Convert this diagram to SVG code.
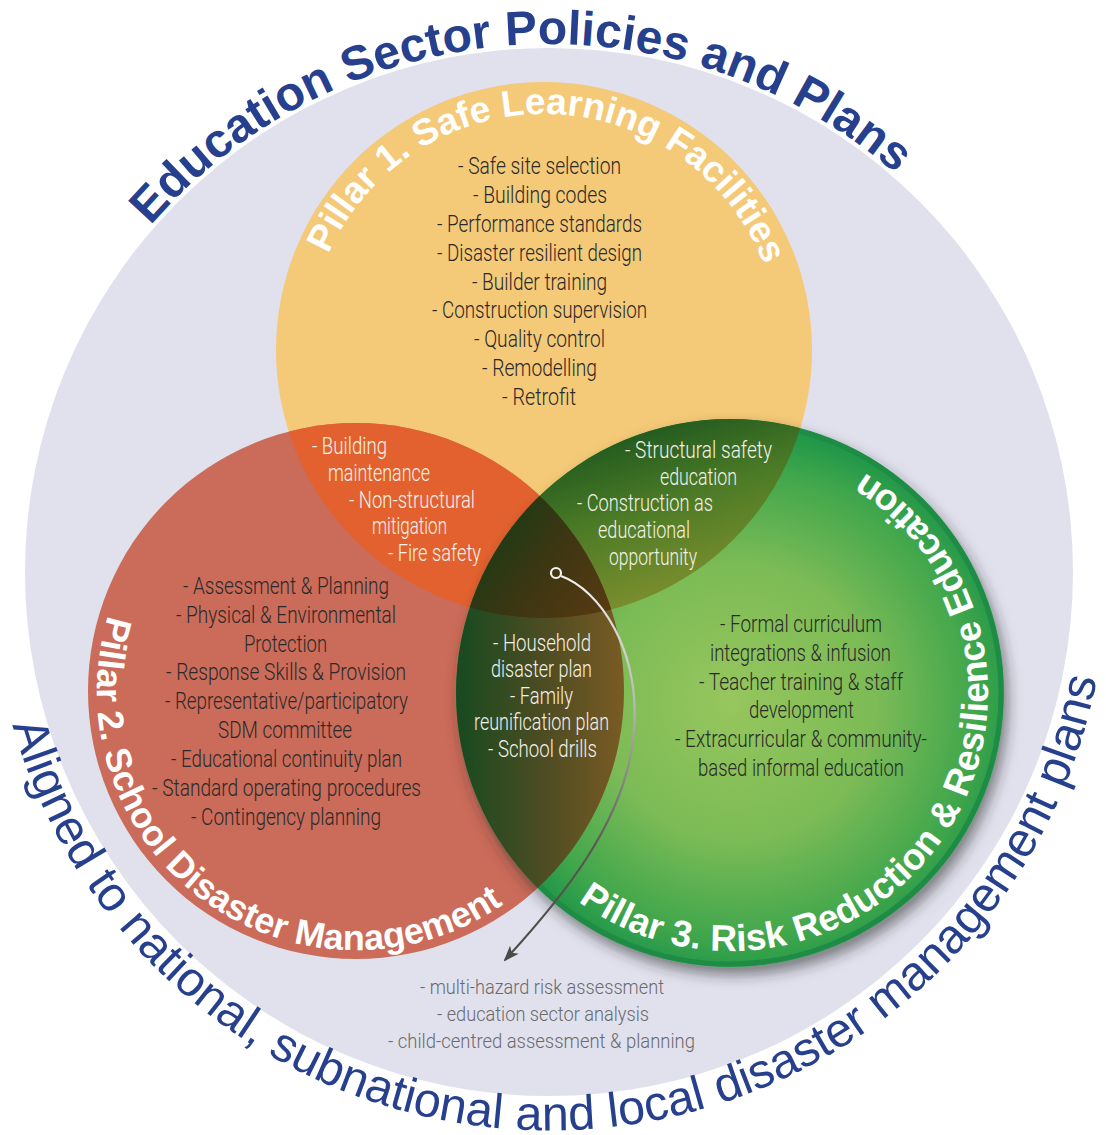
<svg xmlns="http://www.w3.org/2000/svg" width="1106" height="1135" viewBox="0 0 1106 1135">
<style>
.b{font-family:Roboto,'Liberation Sans',Arial,sans-serif;font-weight:300;font-size:23px;fill:#2a2a2a}
.w{fill:#f3f1ea}
.g{fill:#6a6a6a;font-size:21px}
.pt{font-family:'Liberation Sans',Arial,sans-serif;font-weight:bold;fill:#ffffff}
.ot{font-family:'Liberation Sans',Arial,sans-serif;fill:#26408e}
</style>
<defs>
<path id="pTop" d="M150.5,225.6 A528,528 0 0 1 1027.5,348.9"/>
<path id="pBot" d="M12.4,724.9 A558,558 0 1 0 1054.7,336.2"/>
<path id="p1" d="M328.4,254 A236,236 0 0 1 779.1,329.4"/>
<path id="p2" d="M108.3,615.3 A259,259 0 0 0 568.2,839.6"/>
<path id="p3" d="M578.4,901.7 A258,258 0 1 0 774.8,438.9"/>
<clipPath id="cY"><circle cx="544" cy="350" r="268"/></clipPath>
<clipPath id="cR"><circle cx="356" cy="691" r="268"/></clipPath>
<clipPath id="cG"><circle cx="730" cy="693" r="274"/></clipPath>
<radialGradient id="gG" gradientUnits="userSpaceOnUse" cx="745" cy="705" r="276" fx="730" fy="700">
<stop offset="0" stop-color="#97c65d"/>
<stop offset="0.5" stop-color="#7cbb56"/>
<stop offset="0.85" stop-color="#40a64c"/>
<stop offset="1" stop-color="#1f964a"/>
</radialGradient>
<linearGradient id="gYG" gradientUnits="userSpaceOnUse" x1="610" y1="430" x2="665" y2="605">
<stop offset="0" stop-color="#1e561e"/>
<stop offset="0.45" stop-color="#4a7a26"/>
<stop offset="1" stop-color="#7f902e"/>
</linearGradient>
<linearGradient id="gRG" gradientUnits="userSpaceOnUse" x1="462" y1="700" x2="625" y2="700">
<stop offset="0" stop-color="#1b4a20"/>
<stop offset="0.5" stop-color="#4d4c22"/>
<stop offset="1" stop-color="#7a5b24"/>
</linearGradient>
<linearGradient id="gT" gradientUnits="userSpaceOnUse" x1="480" y1="520" x2="610" y2="610">
<stop offset="0" stop-color="#163c16"/>
<stop offset="0.5" stop-color="#3d3612"/>
<stop offset="1" stop-color="#573a12"/>
</linearGradient>
<linearGradient id="gLine" gradientUnits="userSpaceOnUse" x1="0" y1="575" x2="0" y2="960">
<stop offset="0" stop-color="#f2f2f2"/>
<stop offset="0.35" stop-color="#b5b5b5"/>
<stop offset="0.7" stop-color="#5a5a55"/>
<stop offset="1" stop-color="#4a4a44"/>
</linearGradient>
<filter id="sh" x="-20%" y="-20%" width="140%" height="140%">
<feDropShadow dx="4" dy="8" stdDeviation="7" flood-color="#2a2a2a" flood-opacity="0.55"/>
</filter>
<marker id="arr" viewBox="0 0 16 12" refX="14" refY="6" markerWidth="16" markerHeight="12" markerUnits="userSpaceOnUse" orient="auto">
<path d="M0,0 L16,6 L0,12 L4,6 z" fill="#4a4a44"/>
</marker>
</defs>

<g id="outer">
<circle cx="549" cy="572" r="524" fill="#e1e1ee"/>
<text class="ot" font-size="48" font-weight="bold"><textPath href="#pTop">Education Sector Policies and Plans</textPath></text>
<text class="ot" font-size="48.5"><textPath href="#pBot">Aligned to national, subnational and local disaster management plans</textPath></text>
</g>

<g id="pillar1">
<circle cx="544" cy="350" r="268" fill="#f4c977"/>
</g>
<g id="pillar2">
<circle cx="356" cy="691" r="268" fill="#cb6b59"/>
</g>
<g id="overlap12">
<circle cx="356" cy="691" r="268" fill="#e2612f" clip-path="url(#cY)"/>
</g>
<g id="pillar3">
<circle cx="730" cy="693" r="274" fill="url(#gG)" filter="url(#sh)"/>
<circle cx="730" cy="693" r="271" fill="none" stroke="#1f8c46" stroke-width="5"/>
</g>
<g id="overlap13" clip-path="url(#cG)">
<circle cx="544" cy="350" r="268" fill="url(#gYG)"/>
</g>
<g id="overlap23" clip-path="url(#cG)">
<circle cx="356" cy="691" r="268" fill="url(#gRG)"/>
</g>
<g id="overlap123" clip-path="url(#cG)">
<g clip-path="url(#cR)"><circle cx="544" cy="350" r="268" fill="url(#gT)"/></g>
</g>

<g id="titles">
<text class="pt" font-size="37"><textPath href="#p1">Pillar 1. Safe Learning Facilities</textPath></text>
<text class="pt" font-size="36"><textPath href="#p2">Pillar 2. School Disaster Management</textPath></text>
<text class="pt" font-size="37"><textPath href="#p3">Pillar 3. Risk Reduction &amp; Resilience Education</textPath></text>
</g>

<g id="text-pillar1" class="b">
<text x="458" y="174" textLength="163" lengthAdjust="spacingAndGlyphs">- Safe site selection</text>
<text x="473" y="203" textLength="134" lengthAdjust="spacingAndGlyphs">- Building codes</text>
<text x="437" y="232" textLength="205" lengthAdjust="spacingAndGlyphs">- Performance standards</text>
<text x="437" y="261" textLength="205" lengthAdjust="spacingAndGlyphs">- Disaster resilient design</text>
<text x="472" y="290" textLength="135" lengthAdjust="spacingAndGlyphs">- Builder training</text>
<text x="432" y="318" textLength="215" lengthAdjust="spacingAndGlyphs">- Construction supervision</text>
<text x="474" y="347" textLength="131" lengthAdjust="spacingAndGlyphs">- Quality control</text>
<text x="482" y="376" textLength="115" lengthAdjust="spacingAndGlyphs">- Remodelling</text>
<text x="502" y="405" textLength="74" lengthAdjust="spacingAndGlyphs">- Retrofit</text>
</g>

<g id="text-overlap12" class="b w">
<text x="312" y="454" textLength="75" lengthAdjust="spacingAndGlyphs">- Building</text>
<text x="328" y="481" textLength="102" lengthAdjust="spacingAndGlyphs">maintenance</text>
<text x="349" y="508" textLength="126" lengthAdjust="spacingAndGlyphs">- Non-structural</text>
<text x="372" y="534" textLength="75" lengthAdjust="spacingAndGlyphs">mitigation</text>
<text x="388" y="561" textLength="93" lengthAdjust="spacingAndGlyphs">- Fire safety</text>
</g>

<g id="text-overlap13" class="b w">
<text x="625" y="458" textLength="147" lengthAdjust="spacingAndGlyphs">-  Structural safety</text>
<text x="660" y="485" textLength="77" lengthAdjust="spacingAndGlyphs">education</text>
<text x="577" y="511" textLength="136" lengthAdjust="spacingAndGlyphs">- Construction as</text>
<text x="598" y="538" textLength="92" lengthAdjust="spacingAndGlyphs">educational</text>
<text x="609" y="565" textLength="88" lengthAdjust="spacingAndGlyphs">opportunity</text>
</g>

<g id="text-pillar2" class="b">
<text x="183" y="594" textLength="206" lengthAdjust="spacingAndGlyphs">- Assessment &amp; Planning</text>
<text x="176" y="623" textLength="220" lengthAdjust="spacingAndGlyphs">- Physical &amp; Environmental</text>
<text x="244" y="652" textLength="83" lengthAdjust="spacingAndGlyphs">Protection</text>
<text x="166" y="680" textLength="240" lengthAdjust="spacingAndGlyphs">- Response Skills &amp; Provision</text>
<text x="165" y="709" textLength="243" lengthAdjust="spacingAndGlyphs">- Representative/participatory</text>
<text x="218" y="738" textLength="134" lengthAdjust="spacingAndGlyphs">SDM committee</text>
<text x="171" y="767" textLength="231" lengthAdjust="spacingAndGlyphs">- Educational continuity plan</text>
<text x="152" y="796" textLength="269" lengthAdjust="spacingAndGlyphs">- Standard operating procedures</text>
<text x="191" y="825" textLength="190" lengthAdjust="spacingAndGlyphs">- Contingency planning</text>
</g>

<g id="text-overlap23" class="b w">
<text x="493" y="651" textLength="98" lengthAdjust="spacingAndGlyphs">- Household</text>
<text x="491" y="677" textLength="101" lengthAdjust="spacingAndGlyphs">disaster plan</text>
<text x="510" y="704" textLength="63" lengthAdjust="spacingAndGlyphs">- Family</text>
<text x="474" y="730" textLength="135" lengthAdjust="spacingAndGlyphs">reunification plan</text>
<text x="488" y="757" textLength="109" lengthAdjust="spacingAndGlyphs">- School drills</text>
</g>

<g id="text-pillar3" class="b">
<text x="720" y="632" textLength="162" lengthAdjust="spacingAndGlyphs">- Formal curriculum</text>
<text x="710" y="661" textLength="181" lengthAdjust="spacingAndGlyphs">integrations &amp; infusion</text>
<text x="699" y="690" textLength="204" lengthAdjust="spacingAndGlyphs">- Teacher training &amp; staff</text>
<text x="749" y="718" textLength="105" lengthAdjust="spacingAndGlyphs">development</text>
<text x="675" y="747" textLength="252" lengthAdjust="spacingAndGlyphs">- Extracurricular &amp; community-</text>
<text x="698" y="776" textLength="206" lengthAdjust="spacingAndGlyphs">based informal education</text>
</g>

<g id="text-foundation" class="b g">
<text x="420" y="994" textLength="244" lengthAdjust="spacingAndGlyphs">- multi-hazard risk assessment</text>
<text x="437" y="1021" textLength="212" lengthAdjust="spacingAndGlyphs">- education sector analysis</text>
<text x="388" y="1048" textLength="307" lengthAdjust="spacingAndGlyphs">- child-centred assessment &amp; planning</text>
</g>

<g id="connectors">
<circle cx="556" cy="573" r="5" fill="none" stroke="#f2f2f2" stroke-width="2.2"/>
<path d="M561,576 C600,590 640,650 634,730 C628,820 560,900 505,960" fill="none" stroke="url(#gLine)" stroke-width="2.2" marker-end="url(#arr)"/>
</g>
</svg>
